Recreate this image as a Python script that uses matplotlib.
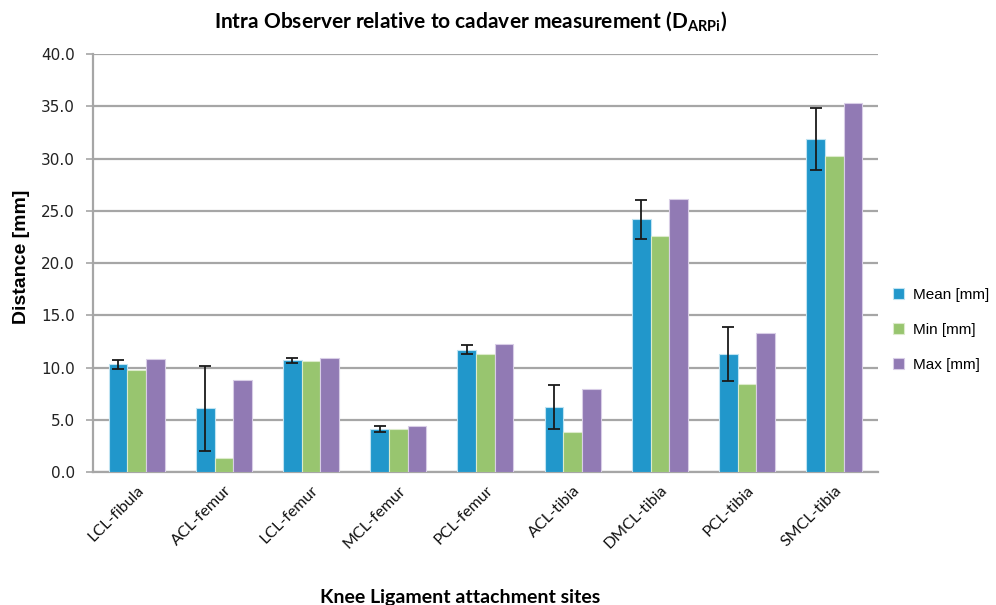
import numpy as np
import matplotlib.pyplot as plt

# attachment sites and the three distance statistics (mm)
sites = ['LCL-fibula', 'ACL-femur', 'LCL-femur', 'MCL-femur', 'PCL-femur',
         'ACL-tibia', 'DMCL-tibia', 'PCL-tibia', 'SMCL-tibia']
mean_mm = [10.3, 6.1, 10.7, 4.15, 11.7, 6.25, 24.2, 11.3, 31.9]
sd_mm = [0.45, 4.05, 0.22, 0.3, 0.45, 2.1, 1.87, 2.6, 2.97]
min_mm = [9.8, 1.3, 10.6, 4.1, 11.3, 3.8, 22.6, 8.4, 30.2]
max_mm = [10.8, 8.85, 10.9, 4.45, 12.25, 7.9, 26.1, 13.35, 35.3]

plt.rcParams['mathtext.fontset'] = 'custom'
plt.rcParams['mathtext.rm'] = 'Lato'
plt.rcParams['mathtext.bf'] = 'Lato:bold'

fig = plt.figure(figsize=(9.96, 6.05), dpi=100)
ax = fig.add_axes([0.0934, 0.2198, 0.788, 0.6909])

x = np.arange(len(sites))
w = 0.214
ax.bar(x - w, mean_mm, w, color='#2197CB', edgecolor='#BFE3F2', linewidth=0.8,
       label='Mean [mm]', zorder=3)
ax.bar(x, min_mm, w, color='#98C56F', edgecolor='#DCEBCB', linewidth=0.8,
       label='Min [mm]', zorder=3)
ax.bar(x + w, max_mm, w, color='#917AB4', edgecolor='#D8CDE6', linewidth=0.8,
       label='Max [mm]', zorder=3)
ax.errorbar(x - w, mean_mm, yerr=sd_mm, fmt='none', ecolor='#1A1A1A',
            elinewidth=1.3, capsize=4.5, capthick=1.3, zorder=4)

ax.set_xlim(-0.5, len(sites) - 0.5)
ax.set_ylim(0, 40)
yt = np.arange(0, 40.1, 5)
ax.set_yticks(yt)
ax.set_yticklabels(['%.1f' % v for v in yt], fontsize=11, family='DejaVu Sans',
                   color='#222222')
ax.yaxis.grid(True, color='#A6A6A6', linewidth=1.6, zorder=0)
ax.set_axisbelow(True)
for s in ['top', 'right']:
    ax.spines[s].set_visible(False)
for s in ['left', 'bottom']:
    ax.spines[s].set_color('#A6A6A6')
    ax.spines[s].set_linewidth(1.6)
ax.tick_params(axis='y', length=5, color='#A6A6A6', width=1.2, pad=8)
ax.tick_params(axis='x', length=0, pad=8)

ax.set_xticks(x)
ax.set_xticklabels(sites, rotation=45, ha='right', rotation_mode='anchor',
                   fontsize=11.5, family='Lato', color='#111111')

# axis titles and chart title placed on the figure
fig.text(22 / 996, 0.575, 'Distance [mm]', rotation=90, ha='center', va='center',
         fontsize=14, fontweight='bold', family='Liberation Sans')
fig.text(460 / 996, 0.013, 'Knee Ligament attachment sites', ha='center',
         va='center', fontsize=14, fontweight='bold', family='Lato')
fig.text(471 / 996, 0.9636,
         r'Intra Observer relative to cadaver measurement (D$_{\mathbf{ARPi}}$)',
         ha='center', va='center', fontsize=15, fontweight='bold', family='Lato')

ax.legend(loc='center left', bbox_to_anchor=(0.8826, 0.4545),
          bbox_transform=fig.transFigure, frameon=False,
          prop={'family': 'Liberation Sans', 'size': 11},
          handlelength=0.7, handleheight=0.7, labelspacing=1.37, handletextpad=0.6)

fig.savefig('out.png', dpi=100)
